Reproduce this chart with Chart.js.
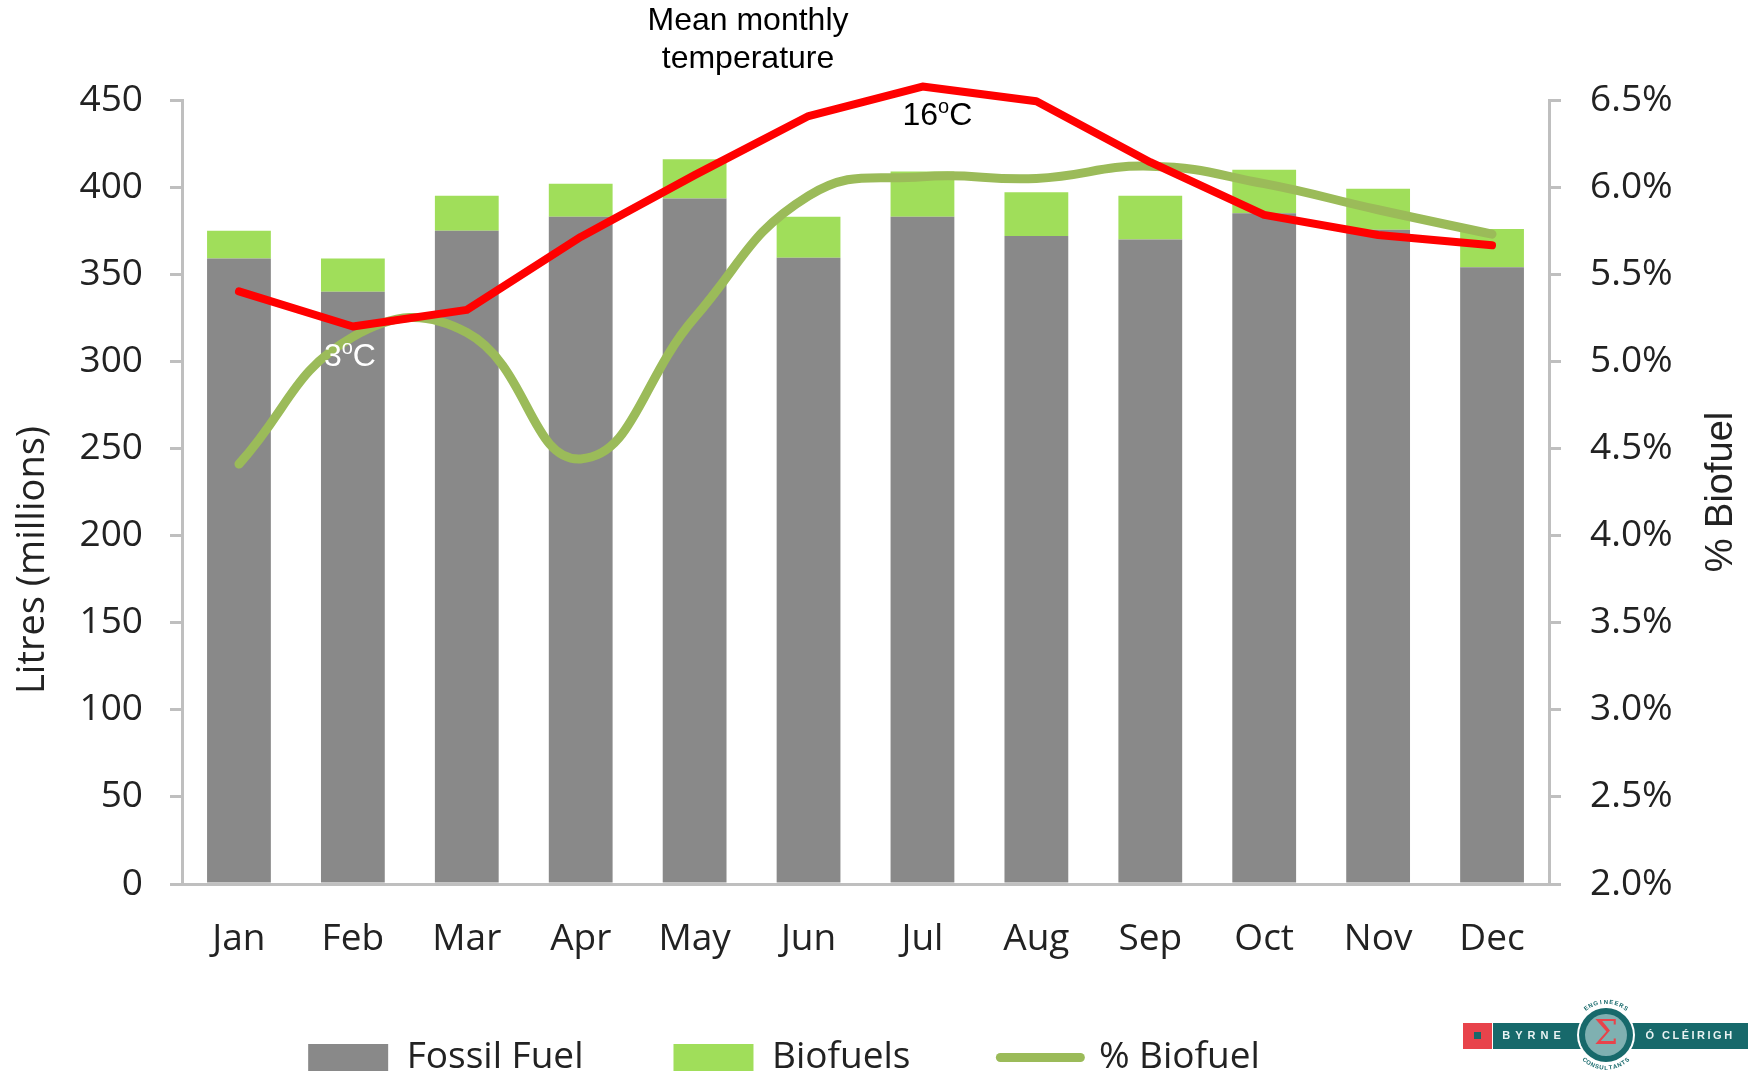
<!DOCTYPE html>
<html>
<head>
<meta charset="utf-8">
<title>Litres and % biofuel</title>
<script src="https://cdn.jsdelivr.net/npm/chart.js@4/dist/chart.umd.min.js"></script>
<style>
html, body { margin: 0; padding: 0; background: #fff; }
#graphics { display: block; }
</style>
</head>
<body>
<canvas id="graphics" width="1750" height="1073"></canvas>
<script>
const months = ['Jan', 'Feb', 'Mar', 'Apr', 'May', 'Jun', 'Jul', 'Aug', 'Sep', 'Oct', 'Nov', 'Dec'];
const fossil = [359, 340, 375, 383, 393.5, 359.5, 383, 372, 370, 385, 375.5, 354];
const biofuels = [16, 19, 20, 19, 22.5, 23.5, 26, 25, 25, 25, 23.5, 22];
const pctBiofuel = [4.41, 5.14, 5.165, 4.44, 5.25, 5.95, 6.06, 6.05, 6.12, 6.02, 5.87, 5.73];
const temperature = [4.9, 3, 3.9, 7.85, 11.2, 14.4, 16, 15.2, 11.9, 9.05, 7.96, 7.4];
const leftTicks = [0, 50, 100, 150, 200, 250, 300, 350, 400, 450];
const rightTicks = [2, 2.5, 3, 3.5, 4, 4.5, 5, 5.5, 6, 6.5];

const GREY = '#898989';
const GREEN = '#A0DE5A';
const OLIVE = '#9BBB59';
const RED = '#FF0000';
const AXIS = '#BFBFBF';
const INK = '#222222';
const TICK_FONT = { family: '"Open Sans"', size: 37 };

const axisStyle = {
    border: { display: true, color: AXIS, width: 3 },
    grid: { drawOnChartArea: false, color: AXIS, lineWidth: 3, tickLength: 12, tickWidth: 3 }
};

// temperature, degree label with a raised "o"
const drawDegrees = (ctx, x, y, number, color) => {
    ctx.save();
    ctx.fillStyle = color;
    ctx.textAlign = 'left';
    ctx.textBaseline = 'alphabetic';
    ctx.font = '32px "Liberation Sans"';
    ctx.fillText(number, x, y);
    let at = x + ctx.measureText(number).width;
    ctx.font = '20px "Liberation Sans"';
    ctx.fillText('o', at, y - 12);
    at += ctx.measureText('o').width;
    ctx.font = '32px "Liberation Sans"';
    ctx.fillText('C', at, y);
    ctx.restore();
};

const drawArcText = (ctx, text, cx, cy, r, mid, step, flip) => {
    [...text].forEach((ch, i) => {
        const a = mid + (i - (text.length - 1) / 2) * step * (flip ? -1 : 1);
        ctx.save();
        ctx.translate(cx + Math.cos(a) * r, cy + Math.sin(a) * r);
        ctx.rotate(a + (flip ? -Math.PI / 2 : Math.PI / 2));
        ctx.fillText(ch, 0, 0);
        ctx.restore();
    });
};

const drawLogo = (ctx) => {
    const teal = '#17696B';
    ctx.save();
    ctx.fillStyle = '#E8434B';
    ctx.fillRect(1463, 1023, 29, 26);
    ctx.fillStyle = teal;
    ctx.fillRect(1493, 1023, 90, 26);
    ctx.fillRect(1630, 1023, 118, 26);
    ctx.fillRect(1474, 1032, 7, 7);
    ctx.fillStyle = '#fff';
    ctx.beginPath();
    ctx.arc(1606, 1035, 29, 0, Math.PI * 2);
    ctx.fill();
    ctx.fillStyle = teal;
    ctx.beginPath();
    ctx.arc(1606, 1035, 27, 0, Math.PI * 2);
    ctx.fill();
    ctx.fillStyle = '#7FB0B1';
    ctx.beginPath();
    ctx.arc(1606, 1035, 21, 0, Math.PI * 2);
    ctx.fill();
    ctx.fillStyle = '#E8434B';
    ctx.textAlign = 'center';
    ctx.textBaseline = 'middle';
    ctx.font = '34px "DejaVu Serif"';
    ctx.fillText('Σ', 1606, 1035);
    ctx.fillStyle = '#EAF3F3';
    ctx.font = 'bold 11px "Liberation Sans"';
    ctx.letterSpacing = '5px';
    ctx.fillText('BYRNE', 1534, 1036);
    ctx.letterSpacing = '2.5px';
    ctx.fillText('Ó CLÉIRIGH', 1690, 1036);
    ctx.letterSpacing = '0px';
    ctx.fillStyle = teal;
    ctx.font = 'bold 6px "Liberation Sans"';
    drawArcText(ctx, 'ENGINEERS', 1606, 1035, 33, -Math.PI / 2, 0.16, false);
    drawArcText(ctx, 'CONSULTANTS', 1606, 1035, 33, Math.PI / 2, 0.14, true);
    ctx.restore();
};

const notesPlugin = {
    id: 'notes',
    // both scales are squeezed by the legend fit, and tick labels get clipped to the scale box
    beforeDraw(chart) {
        chart.scales.x.bottom = chart.height;
        chart.scales.yRight.right = chart.width;
    },
    afterDraw(chart) {
        const { ctx, scales } = chart;
        const feb = scales.x.getPixelForValue(1);
        const jul = scales.x.getPixelForValue(6);

        ctx.save();
        ctx.fillStyle = '#000';
        ctx.textAlign = 'center';
        ctx.textBaseline = 'alphabetic';
        ctx.font = '32px "Liberation Sans"';
        ctx.fillText('Mean monthly', 748, 30);
        ctx.fillText('temperature', 748, 68);
        ctx.restore();

        ctx.save();
        ctx.translate(33, 560);
        ctx.rotate(-Math.PI / 2);
        ctx.fillStyle = INK;
        ctx.textAlign = 'center';
        ctx.textBaseline = 'middle';
        ctx.font = '38px "Open Sans"';
        ctx.fillText('Litres (millions)', 0, 0);
        ctx.restore();

        ctx.save();
        ctx.translate(1732, 492);
        ctx.rotate(-Math.PI / 2);
        ctx.fillStyle = INK;
        ctx.textAlign = 'center';
        ctx.textBaseline = 'alphabetic';
        ctx.font = '38px "Liberation Sans"';
        ctx.fillText('% Biofuel', 0, 0);
        ctx.restore();

        drawDegrees(ctx, feb - 29, scales.temp.getPixelForValue(3) + 39, '3', '#fff');
        drawDegrees(ctx, jul - 20, scales.temp.getPixelForValue(16) + 38, '16', '#000');
        drawLogo(ctx);
    }
};

new Chart(document.getElementById('graphics'), {
    data: {
        labels: months,
        datasets: [
            { type: 'bar', label: 'Fossil Fuel', data: fossil, backgroundColor: GREY, yAxisID: 'y', order: 3 },
            { type: 'bar', label: 'Biofuels', data: biofuels, backgroundColor: GREEN, yAxisID: 'y', order: 3 },
            {
                type: 'line', label: '% Biofuel', data: pctBiofuel, yAxisID: 'yRight', order: 2,
                borderColor: OLIVE, backgroundColor: OLIVE, borderWidth: 9, tension: 0.45,
                pointRadius: 0, borderCapStyle: 'round', borderJoinStyle: 'round', clip: false
            },
            {
                type: 'line', label: 'Temperature', data: temperature, yAxisID: 'temp', order: 1,
                borderColor: RED, backgroundColor: RED, borderWidth: 8, tension: 0,
                pointRadius: 0, borderCapStyle: 'round', borderJoinStyle: 'round', clip: false
            }
        ]
    },
    options: {
        responsive: false,
        animation: false,
        // right padding moves the centred legend left; the right scale gets it back in afterFit
        layout: { padding: { top: 100, right: 182, bottom: -13, left: 0 } },
        datasets: { bar: { barPercentage: 0.56, categoryPercentage: 1 } },
        scales: {
            x: {
                stacked: true,
                border: { display: true, color: AXIS, width: 3 },
                grid: { display: false },
                ticks: { color: INK, font: TICK_FONT, padding: 25, maxRotation: 0 },
                afterFit(scale) { scale.height = 65; }
            },
            y: {
                ...axisStyle,
                stacked: true,
                position: 'left',
                min: 0,
                max: 450,
                afterBuildTicks(scale) { scale.ticks = leftTicks.map(value => ({ value })); },
                ticks: { color: INK, font: TICK_FONT, padding: 27 },
                afterFit(scale) { scale.width = 182; }
            },
            yRight: {
                ...axisStyle,
                position: 'right',
                min: 2,
                max: 6.5,
                afterBuildTicks(scale) { scale.ticks = rightTicks.map(value => ({ value })); },
                ticks: { color: INK, font: TICK_FONT, padding: 29, callback: v => v.toFixed(1) + '%' },
                afterFit(scale) { scale.width = 19; }
            },
            // no axis in the picture: the red line is only labelled at 3 and 16 degrees
            temp: { display: false, min: -27.2, max: 15.27 }
        },
        plugins: {
            tooltip: { enabled: false },
            legend: {
                position: 'bottom',
                labels: {
                    color: INK,
                    font: TICK_FONT,
                    usePointStyle: true,
                    pointStyleWidth: 80,
                    boxHeight: 27,
                    padding: 90,
                    filter: item => item.text !== 'Temperature',
                    generateLabels(chart) {
                        return chart.data.datasets.map((ds, i) => ({
                            text: ds.label,
                            datasetIndex: i,
                            fontColor: INK,
                            fillStyle: ds.backgroundColor,
                            strokeStyle: ds.backgroundColor,
                            lineWidth: ds.type === 'line' ? 9 : 0,
                            lineCap: 'round',
                            pointStyle: ds.type === 'line' ? 'line' : 'rect'
                        }));
                    }
                }
            }
        }
    },
    plugins: [notesPlugin]
});
</script>
</body>
</html>
